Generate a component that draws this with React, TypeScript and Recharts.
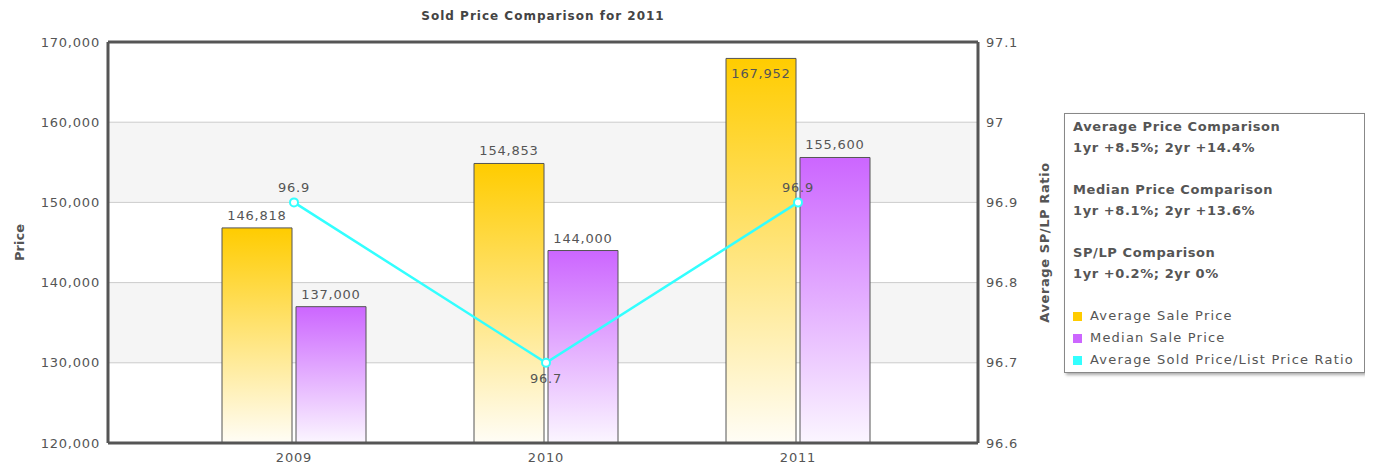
import { Bar, CartesianGrid, ComposedChart, LabelList, Line, XAxis, YAxis } from "recharts";

const years = ["2009", "2010", "2011"];
const avgSale = [146818, 154853, 167952];
const medianSale = [137000, 144000, 155600];
const spLpRatio = [96.9, 96.7, 96.9];
const priceTicks = [120000, 130000, 140000, 150000, 160000, 170000];
const ratioTicks = [96.6, 96.7, 96.8, 96.9, 97.0, 97.1];

const comparisons = [
  { title: "Average Price Comparison", text: "1yr +8.5%; 2yr +14.4%" },
  { title: "Median Price Comparison", text: "1yr +8.1%; 2yr +13.6%" },
  { title: "SP/LP Comparison", text: "1yr +0.2%; 2yr 0%" },
];

const series = [
  { name: "Average Sale Price", color: "#ffcc00" },
  { name: "Median Sale Price", color: "#cc66ff" },
  { name: "Average Sold Price/List Price Ratio", color: "#33ffff" },
];

const data = years.map((year, i) => ({
  year,
  avg: avgSale[i],
  median: medianSale[i],
  ratio: spLpRatio[i],
}));

const FONT = "'DejaVu Sans', Verdana, sans-serif";
const TXT = "#555";
const tickStyle = { fontSize: 13, fill: TXT, fontFamily: FONT, letterSpacing: 0.8 };
const fmt = (v: number) => v.toLocaleString("en-US");

const BarLabel = (props: any) => {
  const { x, y, width, value } = props;
  // no room above the bar near the top of the plot: put label inside
  const inside = y < 75;
  return (
    <text
      x={x + width / 2}
      y={inside ? y + 20 : y - 8}
      textAnchor="middle"
      fontSize={13}
      fill={TXT}
      fontFamily={FONT}
      letterSpacing={0.8}
    >
      {fmt(value)}
    </text>
  );
};

const RatioLabel = (props: any) => {
  const { x, y, value, index } = props;
  const prev = spLpRatio[index - 1];
  const next = spLpRatio[index + 1];
  const below = prev !== undefined && next !== undefined && value < prev && value < next;
  return (
    <text
      x={x}
      y={below ? y + 20 : y - 10}
      textAnchor="middle"
      fontSize={13}
      fill={TXT}
      fontFamily={FONT}
      letterSpacing={0.8}
    >
      {value}
    </text>
  );
};

export default function App() {
  return (
    <div style={{ position: "relative", width: 1373, height: 467, margin: "-8px 0 0 -8px", fontFamily: FONT }}>
      <div
        style={{
          position: "absolute",
          left: 108,
          width: 870,
          top: 9,
          textAlign: "center",
          fontSize: 12,
          fontWeight: "bold",
          letterSpacing: 1,
          color: "#444",
        }}
      >
        Sold Price Comparison for 2011
      </div>
      <ComposedChart width={1373} height={467} data={data} margin={{ top: 41, right: 315, left: 0, bottom: 0 }}>
        <defs>
          <linearGradient id="gAvg" x1="0" y1="0" x2="0" y2="1">
            <stop offset="0%" stopColor="#ffcc00" />
            <stop offset="100%" stopColor="#fffdf6" />
          </linearGradient>
          <linearGradient id="gMed" x1="0" y1="0" x2="0" y2="1">
            <stop offset="0%" stopColor="#cc66ff" />
            <stop offset="100%" stopColor="#fbf6ff" />
          </linearGradient>
        </defs>
        <CartesianGrid
          yAxisId="left"
          vertical={false}
          stroke="#cccccc"
          horizontalFill={["#ffffff", "#f5f5f5"]}
        />
        <XAxis
          dataKey="year"
          padding={{ left: 60, right: 54 }}
          height={24}
          tickLine={false}
          axisLine={{ stroke: "#555", strokeWidth: 3 }}
          tick={tickStyle}
          dy={2}
        />
        <XAxis
          xAxisId="top"
          dataKey="year"
          orientation="top"
          height={1}
          tick={false}
          tickLine={false}
          axisLine={{ stroke: "#555", strokeWidth: 3 }}
        />
        <YAxis
          yAxisId="left"
          width={108}
          domain={[120000, 170000]}
          ticks={priceTicks}
          tickFormatter={fmt}
          tickLine={false}
          axisLine={{ stroke: "#555", strokeWidth: 3 }}
          tick={tickStyle}
          label={{
            value: "Price",
            angle: -90,
            position: "insideLeft",
            offset: 19,
            style: { fontSize: 13, fontWeight: "bold", fill: TXT, fontFamily: FONT, textAnchor: "middle" },
          }}
        />
        <YAxis
          yAxisId="right"
          orientation="right"
          width={80}
          domain={[96.6, 97.1]}
          ticks={ratioTicks}
          tickFormatter={(v: number) => `${+v.toFixed(1)}`}
          tickLine={false}
          axisLine={{ stroke: "#555", strokeWidth: 3 }}
          tick={{ ...tickStyle, textAnchor: "start" }}
          label={{
            value: "Average SP/LP Ratio",
            angle: -90,
            position: "insideRight",
            offset: 14,
            style: {
              fontSize: 13,
              fontWeight: "bold",
              fill: TXT,
              fontFamily: FONT,
              textAnchor: "middle",
              letterSpacing: 0.6,
            },
          }}
        />
        <Bar
          yAxisId="left"
          dataKey="avg"
          name={series[0].name}
          barSize={70}
          fill="url(#gAvg)"
          stroke="#555"
          strokeWidth={1}
          isAnimationActive={false}
        >
          <LabelList dataKey="avg" content={BarLabel} />
        </Bar>
        <Bar
          yAxisId="left"
          dataKey="median"
          name={series[1].name}
          barSize={70}
          fill="url(#gMed)"
          stroke="#555"
          strokeWidth={1}
          isAnimationActive={false}
        >
          <LabelList dataKey="median" content={BarLabel} />
        </Bar>
        <Line
          yAxisId="right"
          dataKey="ratio"
          name={series[2].name}
          type="linear"
          stroke={series[2].color}
          strokeWidth={2.5}
          dot={{ r: 4, fill: "#fff", stroke: series[2].color, strokeWidth: 2 }}
          isAnimationActive={false}
        >
          <LabelList dataKey="ratio" content={RatioLabel} />
        </Line>
      </ComposedChart>
      <div
        style={{
          position: "absolute",
          left: 1064,
          top: 113,
          width: 283,
          padding: "2px 8px 1px 8px",
          border: "1px solid #888",
          boxShadow: "2px 2px 3px #aaa",
          background: "#fff",
          color: TXT,
          fontSize: 13,
          lineHeight: "21px",
        }}
      >
        {comparisons.map((c) => (
          <div key={c.title} style={{ fontWeight: "bold", letterSpacing: 0.6, marginBottom: 21 }}>
            <div>{c.title}</div>
            <div>{c.text}</div>
          </div>
        ))}
        {series.map((s) => (
          <div key={s.name} style={{ display: "flex", alignItems: "center", letterSpacing: 1.2, lineHeight: "22px" }}>
            <span style={{ width: 9, height: 9, background: s.color, marginRight: 8, display: "inline-block" }} />
            {s.name}
          </div>
        ))}
      </div>
    </div>
  );
}
